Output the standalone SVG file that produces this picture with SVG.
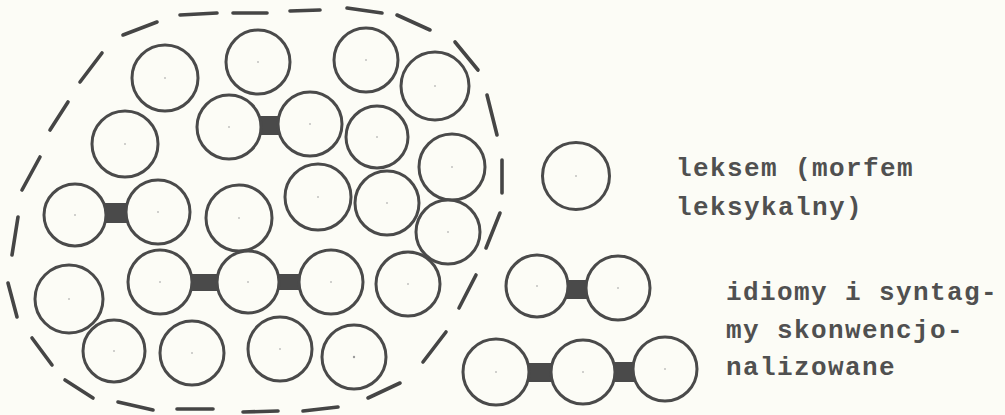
<svg xmlns="http://www.w3.org/2000/svg" width="1005" height="415" viewBox="0 0 1005 415">
<style>
.bg{fill:#fcfcf6}
.c{fill:#fcfcf6;stroke:#4a4a4a;stroke-width:3}
.d{fill:#9a9a9a}
.bond{fill:#4a4a4a}
.dash{stroke:#454545;stroke-width:3.6;stroke-linecap:round;fill:none}
.t{font-family:"Liberation Mono","DejaVu Sans Mono",monospace;font-size:26px;font-weight:bold;letter-spacing:1.4px;fill:#505050}
</style>
<rect class="bg" x="0" y="0" width="1005" height="415"/>
<g id="boundary">
<line class="dash" x1="17" y1="317" x2="8" y2="283"/>
<line class="dash" x1="12" y1="255" x2="18" y2="217"/>
<line class="dash" x1="22" y1="190" x2="40" y2="157"/>
<line class="dash" x1="50" y1="130" x2="68" y2="102"/>
<line class="dash" x1="80" y1="82" x2="102" y2="53"/>
<line class="dash" x1="123" y1="35" x2="157" y2="22"/>
<line class="dash" x1="180" y1="15" x2="217" y2="13"/>
<line class="dash" x1="233" y1="13" x2="267" y2="13"/>
<line class="dash" x1="290" y1="11" x2="320" y2="10"/>
<line class="dash" x1="347" y1="8" x2="382" y2="13"/>
<line class="dash" x1="397" y1="15" x2="430" y2="30"/>
<line class="dash" x1="455" y1="42" x2="478" y2="70"/>
<line class="dash" x1="487" y1="95" x2="497" y2="135"/>
<line class="dash" x1="502" y1="160" x2="502" y2="193"/>
<line class="dash" x1="500" y1="213" x2="486" y2="248"/>
<line class="dash" x1="476" y1="275" x2="459" y2="308"/>
<line class="dash" x1="446" y1="332" x2="423" y2="362"/>
<line class="dash" x1="400" y1="383" x2="368" y2="398"/>
<line class="dash" x1="338" y1="407" x2="303" y2="411"/>
<line class="dash" x1="278" y1="411" x2="243" y2="412"/>
<line class="dash" x1="213" y1="409" x2="177" y2="409"/>
<line class="dash" x1="153" y1="410" x2="118" y2="402"/>
<line class="dash" x1="93" y1="398" x2="65" y2="380"/>
<line class="dash" x1="52" y1="365" x2="32" y2="338"/>
</g>
<g id="connectors">
<rect class="bond" x="258" y="116" width="23" height="19"/>
<rect class="bond" x="104" y="203" width="24" height="20"/>
<rect class="bond" x="189" y="274" width="30" height="17"/>
<rect class="bond" x="277" y="274" width="24" height="16"/>
<rect class="bond" x="566" y="280" width="23" height="19"/>
<rect class="bond" x="528" y="363" width="26" height="19"/>
<rect class="bond" x="613" y="362" width="23" height="20"/>
</g>
<g id="n1"><circle class="c" cx="165" cy="78" r="33"/><circle class="d" cx="165" cy="78" r="0.8"/></g>
<g id="n2"><circle class="c" cx="258" cy="62" r="32"/><circle class="d" cx="258" cy="62" r="0.8"/></g>
<g id="n3"><circle class="c" cx="366" cy="60" r="32"/><circle class="d" cx="366" cy="60" r="0.8"/></g>
<g id="n4"><circle class="c" cx="435" cy="86" r="34"/><circle class="d" cx="435" cy="86" r="0.8"/></g>
<g id="n5"><circle class="c" cx="125" cy="144" r="33"/><circle class="d" cx="125" cy="144" r="0.8"/></g>
<g id="n6"><circle class="c" cx="229" cy="127" r="32"/><circle class="d" cx="229" cy="127" r="0.8"/></g>
<g id="n7"><circle class="c" cx="310" cy="124" r="32"/><circle class="d" cx="310" cy="124" r="0.8"/></g>
<g id="n8"><circle class="c" cx="377" cy="137" r="31"/><circle class="d" cx="377" cy="137" r="0.8"/></g>
<g id="n9"><circle class="c" cx="452" cy="167" r="33"/><circle class="d" cx="452" cy="167" r="0.8"/></g>
<g id="n10"><circle class="c" cx="75" cy="215" r="31"/><circle class="d" cx="75" cy="215" r="0.8"/></g>
<g id="n11"><circle class="c" cx="158" cy="212" r="32"/><circle class="d" cx="158" cy="212" r="0.8"/></g>
<g id="n12"><circle class="c" cx="239" cy="218" r="33"/><circle class="d" cx="239" cy="218" r="0.8"/></g>
<g id="n13"><circle class="c" cx="318" cy="197" r="33"/><circle class="d" cx="318" cy="197" r="0.8"/></g>
<g id="n14"><circle class="c" cx="387" cy="203" r="32"/><circle class="d" cx="387" cy="203" r="0.8"/></g>
<g id="n15"><circle class="c" cx="448" cy="232" r="32"/><circle class="d" cx="448" cy="232" r="0.8"/></g>
<g id="n16"><circle class="c" cx="69" cy="299" r="34"/><circle class="d" cx="69" cy="299" r="0.8"/></g>
<g id="n17"><circle class="c" cx="160" cy="282" r="32"/><circle class="d" cx="160" cy="282" r="0.8"/></g>
<g id="n18"><circle class="c" cx="248" cy="282" r="31"/><circle class="d" cx="248" cy="282" r="0.8"/></g>
<g id="n19"><circle class="c" cx="331" cy="282" r="32"/><circle class="d" cx="331" cy="282" r="0.8"/></g>
<g id="n20"><circle class="c" cx="408" cy="284" r="32"/><circle class="d" cx="408" cy="284" r="0.8"/></g>
<g id="n21"><circle class="c" cx="114" cy="351" r="31"/><circle class="d" cx="114" cy="351" r="0.8"/></g>
<g id="n22"><circle class="c" cx="192" cy="353" r="32"/><circle class="d" cx="192" cy="353" r="0.8"/></g>
<g id="n23"><circle class="c" cx="280" cy="349" r="32"/><circle class="d" cx="280" cy="349" r="0.8"/></g>
<g id="n24"><circle class="c" cx="354" cy="357" r="32"/><circle class="d" cx="354" cy="357" r="1.2"/></g>
<g id="leksem"><circle class="c" cx="576" cy="176" r="33.5"/><circle class="d" cx="576" cy="176" r="0.8"/></g>
<g id="idiom-pair"><circle class="c" cx="537" cy="286" r="31"/><circle class="d" cx="537" cy="286" r="0.8"/><circle class="c" cx="618" cy="288" r="32"/><circle class="d" cx="618" cy="288" r="0.8"/></g>
<g id="idiom-triple"><circle class="c" cx="496" cy="372" r="33"/><circle class="d" cx="496" cy="372" r="0.8"/><circle class="c" cx="583" cy="372" r="32"/><circle class="d" cx="583" cy="372" r="0.8"/><circle class="c" cx="665" cy="369" r="32"/><circle class="d" cx="665" cy="369" r="0.8"/></g>
<g id="label-leksem">
<text class="t" x="676" y="176">leksem (morfem</text>
<text class="t" x="676" y="215">leksykalny)</text>
</g>
<g id="label-idiomy">
<text class="t" x="726" y="300">idiomy i syntag-</text>
<text class="t" x="726" y="338">my skonwencjo-</text>
<text class="t" x="726" y="375">nalizowane</text>
</g>
</svg>
